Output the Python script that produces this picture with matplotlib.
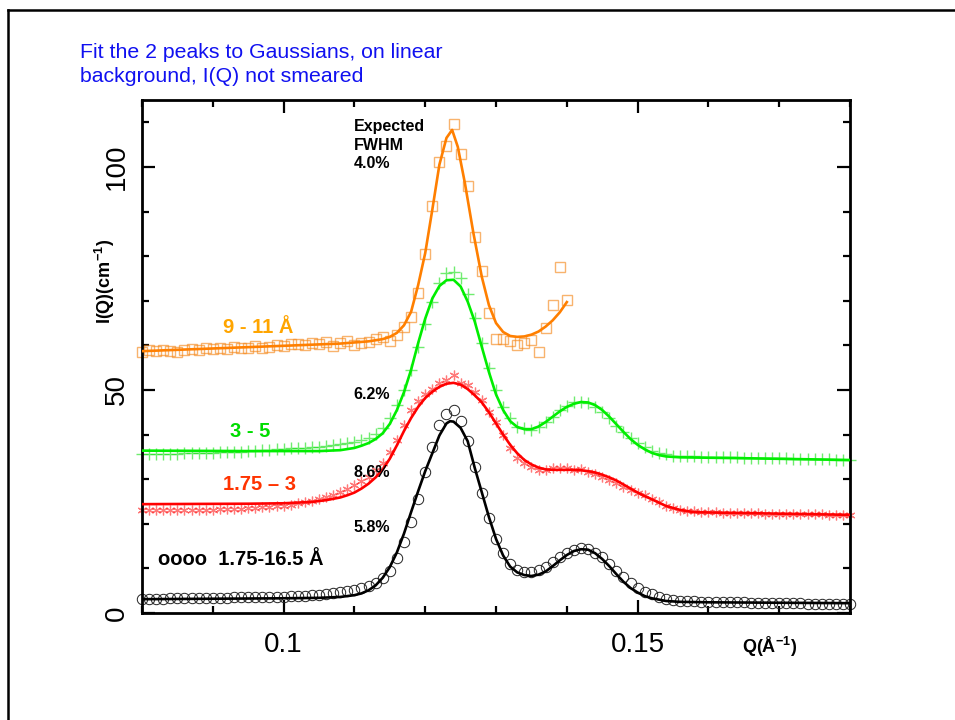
import numpy as np
import matplotlib
matplotlib.use("Agg")
import matplotlib.pyplot as plt
from matplotlib.ticker import MultipleLocator
from matplotlib.lines import Line2D

plt.rcParams['font.family'] = ['Liberation Sans', 'DejaVu Sans']
plt.rcParams['mathtext.fontset'] = 'custom'
plt.rcParams['mathtext.rm'] = 'Liberation Sans'
plt.rcParams['mathtext.bf'] = 'Liberation Sans:bold'

# Q grid of the measured points (A^-1), step 0.001
q_grid = np.round(np.arange(80, 181) * 0.001, 3)

# measured I(Q), one value per grid point
black_pts = [3.2, 3.2, 3.2, 3.2, 3.3, 3.3, 3.3, 3.3, 3.3, 3.4, 3.4, 3.4, 3.4, 3.5,
             3.5, 3.5, 3.6, 3.6, 3.6, 3.7, 3.7, 3.8, 3.8, 3.9, 4.0, 4.1, 4.2, 4.4,
             4.7, 4.9, 5.2, 5.6, 6.1, 6.8, 7.8, 9.5, 12.3, 15.9, 20.4, 25.6, 31.6,
             37.2, 42.2, 44.6, 45.5, 43.0, 38.6, 32.7, 27.0, 21.3, 16.6, 13.5, 11.0,
             9.6, 9.2, 9.2, 9.6, 10.3, 11.4, 12.6, 13.5, 14.1, 14.6, 14.3, 13.5,
             12.5, 10.9, 9.4, 8.0, 6.7, 5.6, 4.8, 4.2, 3.6, 3.2, 2.9, 2.7,
             2.6, 2.6, 2.5, 2.5, 2.5, 2.4, 2.4, 2.4, 2.4, 2.3, 2.3, 2.3, 2.3, 2.2,
             2.2, 2.2, 2.2, 2.1, 2.1, 2.1, 2.1, 2.0, 2.0, 2.0]
red_pts = [23.0, 23.0, 23.0, 23.1, 23.1, 23.1, 23.1, 23.2, 23.2, 23.2, 23.2, 23.3,
           23.3, 23.4, 23.4, 23.5, 23.6, 23.7, 23.8, 23.9, 24.1,
           24.3, 24.6, 24.9, 25.2, 25.6, 26.0, 26.5, 27.1, 27.8, 28.6, 29.5, 30.6,
           32.0, 33.6, 36.0,
           38.8, 42.2, 45.6, 47.5, 49.0, 50.2, 51.5, 52.2, 53.4, 51.6, 51.1, 49.6,
           47.8, 45.1, 42.8,
           39.9, 37.0, 34.8, 33.6, 32.7, 32.1, 32.1, 32.5, 32.5, 32.5, 32.1, 32.3,
           31.6, 31.2, 30.5, 29.8, 29.1, 28.3, 27.6, 26.9, 26.5, 25.6, 24.8, 24.0,
           23.5, 23.1,
           22.9, 22.8, 22.7, 22.6, 22.6, 22.5, 22.5, 22.5, 22.4, 22.4, 22.4, 22.3,
           22.3, 22.3, 22.2, 22.2, 22.2, 22.1, 22.1, 22.1, 22.0, 22.0, 21.9, 21.9]
green_pts = [35.6, 35.6, 35.6, 35.7, 35.7, 35.7, 35.8, 35.8, 35.8, 35.9, 35.9, 36.0,
             36.0, 36.1, 36.2, 36.3, 36.4, 36.5, 36.6, 36.7, 36.8,
             36.9, 37.0, 37.1, 37.2, 37.3, 37.5, 37.7, 37.9, 38.1, 38.4, 38.8, 39.3,
             40.1, 41.5, 43.7,
             46.6, 50.0, 54.5, 59.6, 64.8, 69.7, 74.0, 76.2, 76.5, 75.1, 71.5, 66.1,
             60.5, 55.0, 50.0,
             46.2, 43.7, 41.7, 41.5, 41.0, 41.7, 42.8, 43.9, 45.5, 46.4, 47.3, 47.3,
             47.1, 46.2, 45.1, 43.7, 41.9, 40.5, 39.3, 38.2, 37.2, 36.4, 35.9, 35.6,
             35.3, 35.2,
             35.1, 35.1, 35.0, 35.0, 35.0, 34.9, 34.9, 34.9, 34.8, 34.8, 34.8, 34.8,
             34.7, 34.7, 34.7, 34.6, 34.6, 34.6, 34.5, 34.5, 34.5, 34.4, 34.4, 34.3]
# orange set stops at Q = 0.140
orange_pts = [58.6, 58.9, 58.7, 59.0, 58.8, 58.6, 58.9, 59.2, 58.9, 59.3, 59.1, 59.5,
              59.2, 59.6, 59.4, 59.3, 59.8, 59.5, 59.7, 60.1, 59.8, 60.2, 60.4, 60.0,
              60.5, 60.3, 60.7,
              59.9, 60.5, 61.0, 60.1, 60.5, 60.8, 61.4, 61.9, 61.0, 62.3, 64.1, 66.4,
              71.7, 80.5, 91.3, 101.1, 104.7, 109.6, 102.9, 95.7, 84.3, 76.7, 67.3,
              61.4, 61.4, 61.0, 60.1, 60.5, 61.2, 58.5, 63.9, 69.1, 77.6, 70.2]

# Gaussian fit curves
black_fit_q = [0.080, 0.090, 0.100, 0.105, 0.108, 0.110, 0.111, 0.112, 0.113, 0.114,
               0.115, 0.116, 0.117, 0.118, 0.119, 0.120, 0.121, 0.122, 0.123, 0.1235,
               0.124, 0.125, 0.126, 0.127, 0.128, 0.129, 0.130, 0.131, 0.132, 0.133,
               0.134, 0.135, 0.136, 0.137, 0.138, 0.139, 0.140, 0.141, 0.142, 0.143,
               0.144, 0.145, 0.146, 0.147, 0.148, 0.149, 0.150, 0.151, 0.152, 0.154,
               0.156, 0.160, 0.170, 0.180]
black_fit_i = [3.1, 3.2, 3.3, 3.4, 3.6, 4.0, 4.4, 5.1, 6.2, 7.9,
               10.3, 13.6, 17.8, 22.6, 27.3, 31.8, 35.8, 39.8, 42.5, 43.0,
               42.9, 41.5, 38.5, 32.5, 27.0, 21.5, 16.6, 12.9, 10.4, 9.1,
               8.5, 8.3, 8.6, 9.3, 10.5, 11.8, 13.0, 13.9, 14.3, 14.2,
               13.4, 12.1, 10.5, 8.7, 7.0, 5.6, 4.6, 3.8, 3.3, 2.7,
               2.5, 2.4, 2.3, 2.2]
red_fit_q = [0.080, 0.095, 0.100, 0.104, 0.106, 0.108, 0.109,
             0.110, 0.111, 0.112, 0.113, 0.114, 0.115, 0.116, 0.117, 0.118, 0.119,
             0.120, 0.121, 0.122, 0.123, 0.124, 0.125, 0.126, 0.127, 0.128, 0.129,
             0.130, 0.131, 0.132, 0.133, 0.134, 0.135, 0.136, 0.137, 0.138, 0.139,
             0.140, 0.141, 0.142, 0.143, 0.144, 0.145, 0.146, 0.147, 0.148, 0.149,
             0.150, 0.151, 0.152, 0.154, 0.156, 0.158, 0.165, 0.180]
red_fit_i = [24.4, 24.5, 24.6, 24.9, 25.3, 25.9, 26.4,
             27.0, 27.9, 29.0, 30.4, 32.2, 34.6, 37.6, 40.8, 43.7, 46.2,
             48.2, 49.6, 50.7, 51.4, 51.6, 51.2, 50.2, 48.8, 47.2, 45.0,
             42.5, 40.0, 37.7, 35.8, 34.3, 33.3, 32.6, 32.2, 32.1, 32.1,
             32.1, 32.1, 32.0, 31.8, 31.5, 31.0, 30.4, 29.7, 28.8, 27.9,
             27.0, 26.2, 25.5, 24.0, 23.1, 22.6, 22.4, 22.0]
green_fit_q = [0.080, 0.095, 0.105, 0.108, 0.110, 0.111, 0.112, 0.113, 0.114, 0.115,
               0.116, 0.117, 0.118, 0.119, 0.120, 0.121, 0.122, 0.123, 0.124, 0.125,
               0.126, 0.127, 0.128, 0.129, 0.130, 0.131, 0.132, 0.133, 0.134, 0.135,
               0.136, 0.137, 0.138, 0.139, 0.140, 0.141, 0.142, 0.143, 0.144, 0.145,
               0.146, 0.147, 0.148, 0.149, 0.150, 0.151, 0.152, 0.153, 0.154, 0.156,
               0.165, 0.180]
green_fit_i = [36.4, 36.3, 36.3, 36.5, 37.0, 37.5, 38.1, 39.0, 40.3, 42.4,
               45.5, 49.5, 54.5, 60.5, 66.0, 70.5, 73.3, 74.6, 74.7, 73.2,
               69.8, 65.3, 59.6, 54.0, 49.0, 45.5, 43.0, 41.7, 41.2, 41.2,
               41.8, 42.8, 44.0, 45.2, 46.2, 46.9, 47.3, 47.2, 46.6, 45.5,
               44.0, 42.3, 40.6, 39.0, 37.7, 36.7, 35.9, 35.4, 35.1, 34.9,
               34.7, 34.3]
orange_fit_q = [0.080, 0.090, 0.100, 0.108, 0.112, 0.114, 0.115, 0.116, 0.117, 0.118,
                0.119, 0.120, 0.121, 0.122, 0.123, 0.1238, 0.1246, 0.1256, 0.1268, 0.128,
                0.129, 0.130, 0.131, 0.132, 0.133, 0.134, 0.135, 0.136, 0.137, 0.138,
                0.139, 0.140]
orange_fit_i = [58.7, 59.3, 59.9, 60.4, 60.9, 61.4, 61.9, 62.8, 64.5, 67.5,
                73.5, 80.7, 90.4, 100.5, 106.5, 108.3, 104.5, 96.4, 85.2, 75.3,
                69.0, 65.0, 63.0, 62.1, 61.9, 62.0, 62.4, 63.1, 64.2, 65.6,
                67.4, 69.7]

fig = plt.figure(figsize=(9.55, 7.2), dpi=100)
ax = fig.add_axes([0.1487, 0.1486, 0.7414, 0.7125])

# outer frame of the slide
fig.add_artist(Line2D([0.0084, 1.0], [0.986, 0.986], color='black', lw=1.8))
fig.add_artist(Line2D([0.0084, 0.0084], [0.0, 0.986], color='black', lw=1.8))

# measured points
ax.plot(q_grid, black_pts, 'o', ms=7.5, mfc='none', mec='#222222', mew=0.7,
        clip_on=False, zorder=2)
ax.plot(q_grid, red_pts, marker=(6, 2, 0), ls='none', ms=7, color='#ff2020',
        mew=0.9, alpha=0.6, clip_on=False, zorder=2)
ax.plot(q_grid, green_pts, '+', ms=9, color='#10e010', mew=1.0, alpha=0.6,
        clip_on=False, zorder=2)
ax.plot(q_grid[:len(orange_pts)], orange_pts, 's', ms=6.5, mfc='none',
        mec='#f58a1f', mew=1.0, alpha=0.65, clip_on=False, zorder=2)

# fits
ax.plot(black_fit_q, black_fit_i, color='black', lw=1.9, zorder=3)
ax.plot(red_fit_q, red_fit_i, color='#ff0000', lw=1.9, zorder=3)
ax.plot(green_fit_q, green_fit_i, color='#00ee00', lw=1.9, zorder=3)
ax.plot(orange_fit_q, orange_fit_i, color='#ff7f00', lw=1.9, zorder=3)

ax.set_xlim(0.08, 0.18)
ax.set_ylim(0, 115)
ax.xaxis.set_minor_locator(MultipleLocator(0.01))
ax.yaxis.set_major_locator(MultipleLocator(50))
ax.yaxis.set_minor_locator(MultipleLocator(10))
ax.set_xticks([0.1, 0.15])
ax.set_xticklabels(['0.1', '0.15'])

for s in ax.spines.values():
    s.set_linewidth(2.0)
ax.tick_params(which='both', direction='in', top=True, right=True, width=1.6)
ax.tick_params(which='major', length=9.5, labelsize=20)
ax.tick_params(which='minor', length=5)
ax.tick_params(axis='x', which='major', pad=14)
ax.tick_params(axis='y', which='major', pad=9, labelrotation=90)
for lab in ax.get_yticklabels():
    lab.set_va('center')

ax.text(-0.052, 0.647, r'I(Q)(cm$^{\mathbf{-1}}$)', transform=ax.transAxes,
        rotation=90, ha='center', va='center', fontsize=13, fontweight='bold')
ax.text(0.886, -0.066, r'Q($\mathbf{\AA}^{\mathbf{-1}}$)', transform=ax.transAxes,
        ha='center', va='center', fontsize=13, fontweight='bold')

fig.text(0.0838, 0.9105, 'Fit the 2 peaks to Gaussians, on linear\nbackground, I(Q) not smeared',
         color='#1010f0', fontsize=15.3, ha='left', va='center', linespacing=1.3)

# annotations
ax.text(0.10994, 110.7, 'Expected\nFWHM\n4.0%', fontsize=11.5, fontweight='bold',
        ha='left', va='top', linespacing=1.3)
ax.text(0.1098, 48.9, '6.2%', fontsize=11.5, fontweight='bold', ha='left', va='center')
ax.text(0.1098, 31.6, '8.6%', fontsize=11.5, fontweight='bold', ha='left', va='center')
ax.text(0.1098, 19.1, '5.8%', fontsize=11.5, fontweight='bold', ha='left', va='center')
ax.text(0.09144, 64.1, '9 - 11 Å', color='#ffa500', fontsize=14.5, fontweight='bold',
        ha='left', va='center')
ax.text(0.09243, 40.8, '3 - 5', color='#00dd00', fontsize=14.5, fontweight='bold',
        ha='left', va='center')
ax.text(0.09144, 28.9, '1.75 – 3', color='#ff3300', fontsize=14.5, fontweight='bold',
        ha='left', va='center')
ax.text(0.08226, 11.9, 'oooo  1.75-16.5 Å', color='black', fontsize=14.5,
        fontweight='bold', ha='left', va='center')

fig.savefig('out.png', dpi=100)
